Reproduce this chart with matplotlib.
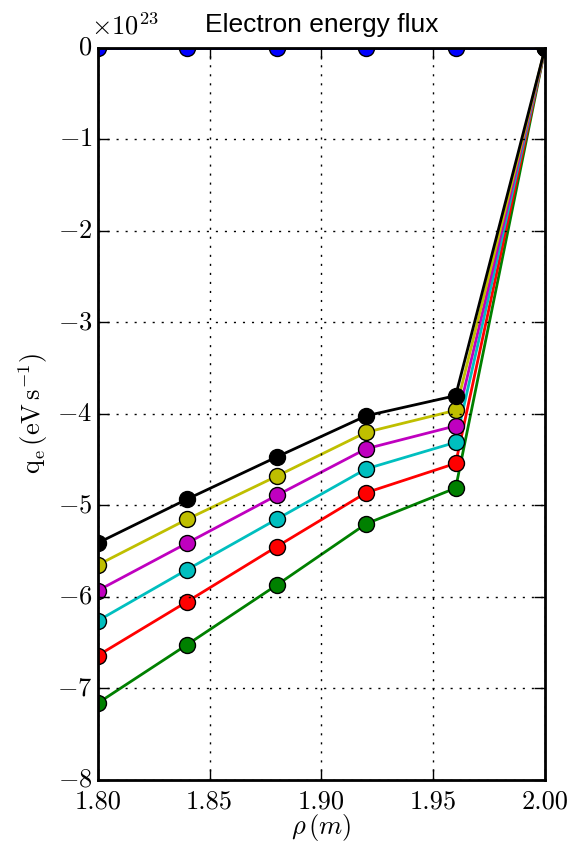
import numpy as np
import matplotlib
matplotlib.use('Agg')
import matplotlib.pyplot as plt

plt.style.use('classic')
plt.rcParams['font.family'] = 'serif'
plt.rcParams['font.serif'] = ['cmr10']
plt.rcParams['mathtext.fontset'] = 'cm'
plt.rcParams['axes.formatter.use_mathtext'] = True
plt.rcParams['axes.unicode_minus'] = True

rho = [1.80, 1.84, 1.88, 1.92, 1.96, 2.00]

# q_e in units of 1e23 eV/s
q_b = [0.0, 0.0, 0.0, 0.0, 0.0, 0.0]
q_g = [-7.16, -6.52, -5.87, -5.20, -4.81, 0.0]
q_r = [-6.64, -6.05, -5.45, -4.86, -4.54, 0.0]
q_c = [-6.26, -5.70, -5.15, -4.60, -4.31, 0.0]
q_m = [-5.93, -5.41, -4.89, -4.38, -4.13, 0.0]
q_y = [-5.65, -5.15, -4.68, -4.20, -3.96, 0.0]
q_k = [-5.41, -4.93, -4.47, -4.02, -3.80, 0.0]

series = [(q_b, 'b'), (q_g, 'g'), (q_r, 'r'), (q_c, 'c'),
          (q_m, 'm'), (q_y, 'y'), (q_k, 'k')]

fig = plt.figure(figsize=(5.72, 8.49), dpi=100, facecolor='white')
ax = fig.add_axes([0.171, 0.0813, 0.782, 0.8622])

for q, c in series:
    ax.plot(rho, np.array(q) * 1e23, '-o', color=c, lw=2, ms=11.5,
            markeredgecolor='k', markeredgewidth=1)

ax.set_xlim(1.80, 2.00)
ax.set_ylim(-8e23, 0)
ax.set_xticks([1.80, 1.85, 1.90, 1.95, 2.00])
ax.xaxis.set_major_formatter(plt.FuncFormatter(lambda v, p: '%.2f' % v))
ax.grid(True, color='k', linestyle=(0, (1.5, 5)), linewidth=1)
ax.tick_params(labelsize=19, direction='in', length=8, width=1)
ax.tick_params(axis='x', pad=7)
for s in ax.spines.values():
    s.set_linewidth(2)

# offset label drawn by hand so it sits where the reference has it
ax.yaxis.get_offset_text().set_visible(False)
ax.text(-0.015, 1.012, r'$\times10^{23}$', transform=ax.transAxes,
        fontsize=19, ha='left', va='bottom')

ax.set_xlabel(r'$\rho\,(m)$', fontsize=19, labelpad=-1)
ax.set_ylabel(r'$\mathrm{q_e\,(eV\,s^{-1})}$', fontsize=19)
ax.set_title('Electron energy flux', fontsize=19, family='Liberation Sans', y=1.012)

fig.savefig('out.png', dpi=100, facecolor='white')
